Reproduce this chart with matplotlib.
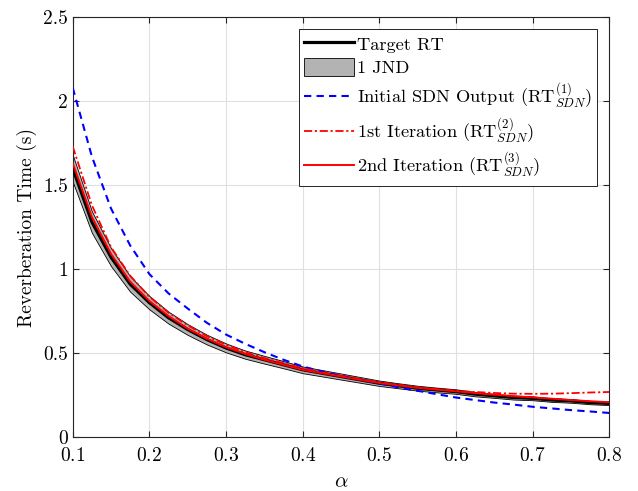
import matplotlib
matplotlib.use('Agg')
import matplotlib.pyplot as plt
from matplotlib.ticker import FuncFormatter

plt.rcParams['font.family'] = 'serif'
plt.rcParams['font.serif'] = ['cmr10']
plt.rcParams['mathtext.fontset'] = 'cm'
plt.rcParams['axes.formatter.use_mathtext'] = True

# absorption coefficient
alpha = [0.1, 0.125, 0.15, 0.175, 0.2, 0.225, 0.25, 0.275, 0.3, 0.325,
         0.35, 0.375, 0.4, 0.425, 0.45, 0.475, 0.5, 0.525, 0.55, 0.575,
         0.6, 0.625, 0.65, 0.675, 0.7, 0.725, 0.75, 0.775, 0.8]

target_rt = [1.60, 1.28, 1.07, 0.91, 0.80, 0.71, 0.64, 0.58, 0.53, 0.49,
             0.46, 0.43, 0.40, 0.38, 0.36, 0.34, 0.32, 0.305, 0.29, 0.28,
             0.27, 0.255, 0.245, 0.235, 0.23, 0.22, 0.215, 0.205, 0.20]

jnd_lower = [1.52, 1.216, 1.017, 0.865, 0.76, 0.675, 0.608, 0.551, 0.504, 0.466,
             0.437, 0.409, 0.38, 0.361, 0.342, 0.323, 0.304, 0.29, 0.276, 0.266,
             0.257, 0.242, 0.233, 0.223, 0.219, 0.209, 0.204, 0.195, 0.19]
jnd_upper = [1.68, 1.344, 1.124, 0.956, 0.84, 0.746, 0.672, 0.609, 0.557, 0.515,
             0.483, 0.452, 0.42, 0.399, 0.378, 0.357, 0.336, 0.32, 0.305, 0.294,
             0.284, 0.268, 0.257, 0.247, 0.242, 0.231, 0.226, 0.215, 0.21]

rt_initial = [2.08, 1.67, 1.36, 1.14, 0.97, 0.855, 0.765, 0.68, 0.61, 0.555,
              0.505, 0.46, 0.42, 0.39, 0.365, 0.34, 0.32, 0.295, 0.275, 0.255,
              0.235, 0.22, 0.205, 0.193, 0.18, 0.17, 0.16, 0.152, 0.143]

rt_iter1 = [1.73, 1.38, 1.13, 0.96, 0.835, 0.74, 0.665, 0.60, 0.55, 0.505,
            0.47, 0.44, 0.41, 0.385, 0.365, 0.345, 0.325, 0.31, 0.295, 0.285,
            0.275, 0.268, 0.262, 0.258, 0.257, 0.258, 0.261, 0.265, 0.268]

rt_iter2 = [1.63, 1.31, 1.09, 0.925, 0.81, 0.72, 0.645, 0.585, 0.535, 0.495,
            0.46, 0.43, 0.40, 0.38, 0.36, 0.34, 0.322, 0.307, 0.293, 0.282,
            0.272, 0.262, 0.252, 0.243, 0.236, 0.228, 0.22, 0.213, 0.207]

fig = plt.figure(figsize=(6.38, 4.91), dpi=100)
ax = fig.add_axes([0.114, 0.110, 0.841, 0.855])

ax.plot(alpha, target_rt, color='black', lw=2.3, label='Target RT', zorder=3)
ax.fill_between(alpha, jnd_lower, jnd_upper, facecolor='#b3b3b3',
                edgecolor='black', lw=0.6, label='1 JND', zorder=2)
ax.plot(alpha, rt_initial, color='blue', ls=(0, (3.5, 2.5)), lw=1.5,
        label=r'Initial SDN Output (RT$^{(1)}_{SDN}$)', zorder=4)
ax.plot(alpha, rt_iter1, color='red', ls=(0, (4.5, 1.5, 1.2, 1.5)), lw=1.3,
        label=r'1st Iteration (RT$^{(2)}_{SDN}$)', zorder=5)
ax.plot(alpha, rt_iter2, color='red', lw=1.4,
        label=r'2nd Iteration (RT$^{(3)}_{SDN}$)', zorder=6)

ax.set_xlim(0.1, 0.8)
ax.set_ylim(0, 2.5)
ax.set_xticks([0.1, 0.2, 0.3, 0.4, 0.5, 0.6, 0.7, 0.8])
ax.set_yticks([0, 0.5, 1, 1.5, 2, 2.5])
ax.yaxis.set_major_formatter(FuncFormatter(lambda v, p: '%g' % v))
ax.tick_params(direction='in', top=True, right=True, labelsize=14,
               color='0.15', length=4)
ax.tick_params(axis='x', pad=7)
ax.grid(True, color='0.88', lw=0.8)
ax.set_axisbelow(True)
for s in ax.spines.values():
    s.set_color('0.15')
    s.set_linewidth(0.8)

ax.set_xlabel(r'$\alpha$', fontsize=15, labelpad=6)
ax.set_ylabel('Reverberation Time (s)', fontsize=14)

leg = ax.legend(loc='upper right', fontsize=13.2, fancybox=False,
                framealpha=1, edgecolor='black', handlelength=2.7,
                handleheight=1.1, handletextpad=0.15, borderaxespad=0.65,
                borderpad=0.3, labelspacing=0.3)
leg.get_frame().set_linewidth(0.6)

fig.savefig('out.png', dpi=100)
